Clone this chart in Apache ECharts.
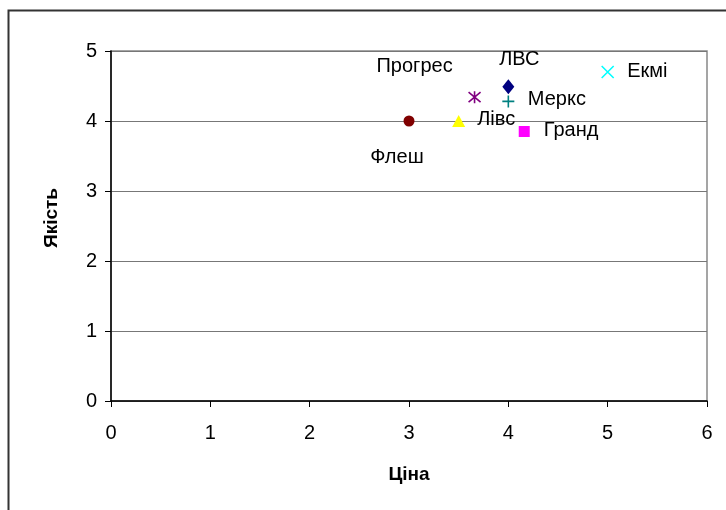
<!DOCTYPE html>
<html>
<head>
<meta charset="utf-8">
<script src="https://cdn.jsdelivr.net/npm/echarts@6/dist/echarts.min.js"></script>
<style>html,body{margin:0;padding:0;background:#fff}#c{width:726px;height:510px}</style>
</head>
<body>
<div id="c"></div>
<script>
const names = ['Флеш', 'Лівс', 'Прогрес', 'ЛВС', 'Меркс', 'Гранд', 'Екмі'];
const prices = [3, 3.5, 3.66, 4, 4, 4.16, 5];
const quality = [4, 4, 4.34, 4.49, 4.28, 3.85, 4.7];
const xTicks = [0, 1, 2, 3, 4, 5, 6];
const yTicks = [0, 1, 2, 3, 4, 5];

const FONT = '"Liberation Sans", Arial, sans-serif';
const styles = [
  {symbol: 'circle', size: 11, fill: '#800000'},
  {symbol: 'triangle', size: [13, 12], fill: '#FFFF00'},
  {symbol: 'path://M0,0 L10,10 M10,0 L0,10 M5,-1 L5,11', size: 12, stroke: '#800080'},
  {symbol: 'diamond', size: [12, 15], fill: '#000080'},
  {symbol: 'path://M5,0 L5,10 M0,5 L10,5', size: 12, stroke: '#008080'},
  {symbol: 'rect', size: 11, fill: '#FF00FF'},
  {symbol: 'path://M0,0 L10,10 M10,0 L0,10', size: 12, stroke: '#00FFFF'}
];
const labelPos = [
  {position: 'inside', offset: [-12, 36]},
  {position: 'right', distance: 12, offset: [0, -2]},
  {position: 'inside', offset: [-60, -31]},
  {position: 'inside', offset: [11, -27]},
  {position: 'right', distance: 11, offset: [0, -2]},
  {position: 'right', distance: 14, offset: [0, -1]},
  {position: 'right', distance: 11, offset: [0, -1]}
];

const series = names.map((n, i) => {
  const s = styles[i];
  const item = s.stroke
    ? {color: 'none', borderColor: s.stroke, borderWidth: 1.6, opacity: 1}
    : {color: s.fill, borderWidth: 0, opacity: 1};
  return {
    name: n,
    type: 'scatter',
    symbol: s.symbol,
    symbolSize: s.size,
    itemStyle: item,
    data: [[prices[i], quality[i]]],
    label: {
      show: true,
      formatter: n,
      position: labelPos[i].position,
      distance: labelPos[i].distance || 5,
      offset: labelPos[i].offset,
      align: labelPos[i].position === 'inside' ? 'center' : 'left',
      verticalAlign: 'middle',
      color: '#000',
      fontFamily: FONT,
      fontSize: 20,
      letterSpacing: -0.8
    },
    emphasis: {disabled: true},
    animation: false
  };
});

const chart = echarts.init(document.getElementById('c'), null, {renderer: 'canvas'});
chart.setOption({
  animation: false,
  backgroundColor: '#fff',
  graphic: [{
    type: 'rect',
    shape: {x: 8.5, y: 10.5, width: 800, height: 600},
    style: {fill: 'none', stroke: '#333', lineWidth: 2},
    silent: true,
    z: -10
  }, {
    type: 'rect',
    shape: {x: 111, y: 51, width: 596, height: 350},
    style: {fill: 'none', stroke: '#888', lineWidth: 1.5},
    silent: true,
    z: -5
  }],
  grid: {left: 111, right: 19, top: 51, bottom: 109, containLabel: false},
  xAxis: {
    type: 'value', min: xTicks[0], max: xTicks[xTicks.length - 1], interval: 1,
    name: 'Ціна', nameLocation: 'middle', nameGap: 64,
    nameTextStyle: {fontFamily: FONT, fontSize: 19, fontWeight: 'bold', color: '#000', letterSpacing: -0.6},
    axisLine: {show: true, onZero: false, lineStyle: {color: '#000', width: 1.5}},
    axisTick: {show: true, inside: false, length: 6, lineStyle: {color: '#000'}},
    axisLabel: {fontFamily: FONT, fontSize: 20, color: '#000', margin: 22},
    splitLine: {show: false}
  },
  yAxis: {
    type: 'value', min: yTicks[0], max: yTicks[yTicks.length - 1], interval: 1,
    name: 'Якість', nameLocation: 'middle', nameGap: 50, nameRotate: 90,
    nameTextStyle: {fontFamily: FONT, fontSize: 19, fontWeight: 'bold', color: '#000', letterSpacing: -0.6, padding: [0, 0, 0, 16]},
    axisLine: {show: true, onZero: false, lineStyle: {color: '#000', width: 1.5}},
    axisTick: {show: true, inside: false, length: 6, lineStyle: {color: '#000'}},
    axisLabel: {fontFamily: FONT, fontSize: 20, color: '#000', margin: 14},
    splitLine: {show: true, lineStyle: {color: '#777', width: 1}}
  },
  series: series
});
</script>
</body>
</html>
